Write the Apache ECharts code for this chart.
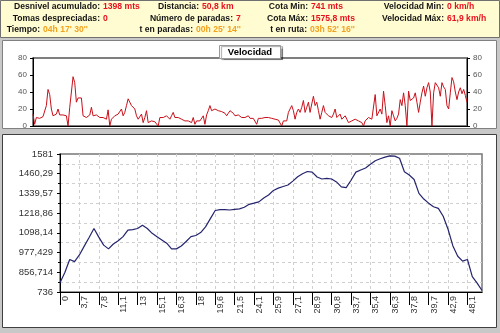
<!DOCTYPE html>
<html><head><meta charset="utf-8">
<script src="https://cdn.jsdelivr.net/npm/echarts@6/dist/echarts.min.js"></script>
<style>html,body{margin:0;padding:0;background:#c8c8c8;}#c{width:500px;height:333px;}</style>
</head><body><div id="c"></div>
<script>
// ---- data ----
const distLabels = ['0','3,7','7,8','11,1','13','15,1','16,3','18','19,6','21,5','24,1','25,9','27,1','28,9','30,8','33,7','35,4','36,3','37,8','39,7','42,9','48,1'];
const elevation = [793,855,935,922,963,1017,1070,1125,1072,1023,1000,1030,1050,1075,1115,1118,1125,1145,1125,1095,1075,1055,1035,1000,1000,1018,1045,1075,1082,1100,1135,1185,1235,1240,1240,1238,1242,1245,1255,1273,1280,1288,1312,1330,1358,1372,1382,1391,1415,1442,1460,1474,1470,1440,1428,1432,1428,1410,1380,1375,1420,1470,1483,1495,1518,1540,1552,1562,1570,1568,1555,1472,1452,1425,1340,1305,1280,1258,1248,1200,1120,1018,955,925,935,830,790,745];
const elevTickLabels = ['736','856,714','977,429','1098,14','1218,86','1339,57','1460,29','1581'];
const elevMin = 736, elevMax = 1581;
const speedA = [14,2,10,10,9,10,11,12,24,43,37,20,12,12,14,20,13,13,13,15,12,0,22,40,58,51,28,33,35,33,12,11,10,12,13,22,12,12,13,11,10,11,10,9,8,19,0,8,10,12,13,14,14,20,12,16,24,32,28,24,22,20,12,8,10,14,4,10,18,4,6,6,6,5,4,0,10,9,10,11,12,10,8,12,16,10,10,10,9,8,7,6,6,6,5,4,10,2,6,8,6,4,12,2,13,18,24,18,19,20,19,18,18,17,17,15,12,15,18,20,15,12,12,13,11,10,10,10,11,12];
const speedB = [9,9,9,8,2,9,9,9,9,10,10,10,9,9,9,8,8,7,6,0,6,6,6,16,20,24,18,8,16,20,16,22,30,16,22,28,16,26,35,24,28,18,8,16,24,16,14,12,11,10,14,20,10,12,14,8,10,12,8,4,5,6,7,8,7,6,5,4,0,6,8,10,9,8,10,37,12,14,20,14,41,24,4,12,0,18,12,6,9,14,31,24,39,24,0,41,30,28,33,39,28,16,28,39,47,35,45,51,40,0,39,51,53,45,35,51,46,43,24,20,39,57,52,40,31,40,45,38,43,36,28];
const speed = speedA.concat(speedB);
const speedTickMax = 80, speedTickStep = 20;
const legendName = 'Velocidad';
// ---- info panel ----
const RED = '#e8101c', ORANGE = '#f2a21e', INK = '#141414';
const infoItems = [
  ['Desnivel acumulado:', '1398 mts', RED, 100, 7],
  ['Tomas despreciadas:', '0', RED, 100, 18.5],
  ['Tiempo:', "04h 17' 30''", ORANGE, 40, 30],
  ['Distancia:', '50,8 km', RED, 199, 7],
  ['Número de paradas:', '7', RED, 233, 18.5],
  ['t en paradas:', "00h 25' 14''", ORANGE, 193, 30],
  ['Cota Min:', '741 mts', RED, 308, 7],
  ['Cota Máx:', '1575,8 mts', RED, 308, 18.5],
  ['t en ruta:', "03h 52' 16''", ORANGE, 307, 30],
  ['Velocidad Min:', '0 km/h', RED, 444, 7],
  ['Velocidad Máx:', '61,9 km/h', RED, 444, 18.5]
];
const FONT = 'bold 8.6px "Liberation Sans", Arial, sans-serif';
const graphics = [
  {type:'rect', shape:{x:0.5,y:0.5,width:499,height:37}, style:{fill:'#fffcd2', stroke:'#707070', lineWidth:1}, z:-10},
  {type:'rect', shape:{x:2.5,y:40.5,width:494,height:88}, style:{fill:'#ffffff', stroke:'#808080', lineWidth:1}, z:-10},
  {type:'rect', shape:{x:2.5,y:134.5,width:494,height:193}, style:{fill:'#ffffff', stroke:'#404040', lineWidth:1}, z:-10},
  {type:'rect', shape:{x:219.5,y:45.5,width:61,height:13}, style:{fill:'#ffffff', stroke:'#9a9a9a', lineWidth:1, shadowColor:'rgba(0,0,0,0.35)', shadowOffsetX:2, shadowOffsetY:1, shadowBlur:1}, z:20},
  {type:'text', x:250, y:52.5, style:{text:legendName, font:'bold 9.5px "Liberation Sans", Arial, sans-serif', fill:'#000', textAlign:'center', textVerticalAlign:'middle'}, z:21}
];
infoItems.forEach(function(it){
  graphics.push({type:'text', x:it[3], y:it[4], style:{text:it[0], font:FONT, fill:INK, textAlign:'right', textVerticalAlign:'middle'}, z:5});
  graphics.push({type:'text', x:it[3]+3, y:it[4], style:{text:it[1], font:FONT, fill:it[2], textAlign:'left', textVerticalAlign:'middle'}, z:5});
});

const elevCats = elevation.map(function(_, i){ return (i % 4 === 0 && distLabels[i/4] !== undefined) ? distLabels[i/4] : ''; });
const speedCats = speed.map(function(_, i){ return i; });
const elevStep = (elevMax - elevMin) / (elevTickLabels.length - 1);
const labelEvery = function(i){ return i % 4 === 0; };

const chart = echarts.init(document.getElementById('c'), null, {renderer:'canvas'});
chart.setOption({
  animation:false,
  backgroundColor:'#c8c8c8',
  textStyle:{fontFamily:'"Liberation Sans", Arial, sans-serif'},
  graphic:graphics,
  grid:[
    {left:33, right:33, top:58, height:68, show:true, borderColor:'#555', borderWidth:1.5, backgroundColor:'transparent'},
    {left:60, right:18, top:154, height:138, show:true, borderColor:'#777', borderWidth:1.5, backgroundColor:'transparent'}
  ],
  xAxis:[
    {type:'category', gridIndex:0, data:speedCats, boundaryGap:false, axisLine:{lineStyle:{color:'#000'}}, axisTick:{show:false}, axisLabel:{show:false}, splitLine:{show:false}},
    {type:'category', gridIndex:1, data:elevCats, boundaryGap:false,
      axisLine:{lineStyle:{color:'#000', width:1}},
      axisTick:{show:true, interval:labelEvery, length:13, lineStyle:{color:'#000'}},
      axisLabel:{interval:labelEvery, rotate:90, fontSize:9, color:'#333', margin:4, verticalAlign:'top', padding:[1,0,0,0]},
      splitLine:{show:true, interval:labelEvery, lineStyle:{color:'#cfcfcf', type:[3,3], width:1}}}
  ],
  yAxis:[
    {type:'value', gridIndex:0, min:0, max:speedTickMax, interval:speedTickStep, position:'left',
      axisLine:{show:true, lineStyle:{color:'#000'}}, axisTick:{show:true, length:3, lineStyle:{color:'#000'}},
      axisLabel:{fontSize:8, color:'#555', margin:6}, splitLine:{show:false}},
    {type:'value', gridIndex:0, min:0, max:speedTickMax, interval:speedTickStep, position:'right',
      axisLine:{show:true, lineStyle:{color:'#000'}}, axisTick:{show:true, length:3, lineStyle:{color:'#000'}},
      axisLabel:{fontSize:8, color:'#555', margin:6}, splitLine:{show:false}},
    {type:'value', gridIndex:1, min:elevMin, max:elevMax, interval:elevStep,
      axisLine:{show:true, lineStyle:{color:'#000'}}, axisTick:{show:true, length:3, lineStyle:{color:'#000'}},
      minorTick:{show:true, splitNumber:2, length:2, lineStyle:{color:'#000'}},
      minorSplitLine:{show:true, lineStyle:{color:'#cfcfcf', type:[3,3], width:1}},
      splitLine:{show:false},
      axisLabel:{fontSize:9.5, color:'#333', margin:7, formatter:function(v){ return elevTickLabels[Math.round((v - elevMin)/elevStep)] || ''; }}}
  ],
  series:[
    {type:'line', name:legendName, xAxisIndex:0, yAxisIndex:0, data:speed, symbol:'none', lineStyle:{color:'#c8101a', width:1}},
    {type:'line', name:'Altitud', xAxisIndex:1, yAxisIndex:2, data:elevation, symbol:'none', lineStyle:{color:'#24246e', width:1.2}}
  ]
});
</script></body></html>
